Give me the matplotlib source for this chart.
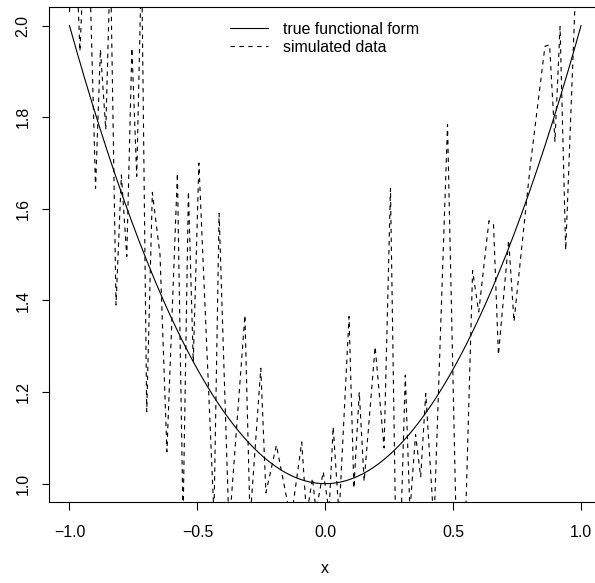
import numpy as np
import matplotlib
matplotlib.use("Agg")
import matplotlib.pyplot as plt
from matplotlib.lines import Line2D

plt.rcParams['font.family'] = ['Liberation Sans', 'DejaVu Sans']

# simulated data (vertices of the dashed line)
sim_x = [-1.000, -0.980, -0.959, -0.940, -0.920, -0.898, -0.879, -0.858, -0.840, -0.818,
         -0.797, -0.776, -0.756, -0.737, -0.718, -0.698, -0.676, -0.646, -0.619, -0.578,
         -0.556, -0.535, -0.516, -0.494, -0.435, -0.415, -0.376, -0.314, -0.294, -0.252,
         -0.232, -0.191, -0.134, -0.092, -0.073, -0.050, -0.036, -0.008, 0.015, 0.031,
         0.054, 0.093, 0.112, 0.133, 0.152, 0.195, 0.230, 0.255, 0.275, 0.298,
         0.313, 0.331, 0.353, 0.373, 0.393, 0.425, 0.478, 0.511, 0.550, 0.576,
         0.600, 0.640, 0.658, 0.677, 0.717, 0.738, 0.801, 0.859, 0.877, 0.898,
         0.918, 0.940, 0.980, 1.000]
sim_y = [2.03, 2.25, 1.944, 2.20, 2.10, 1.645, 1.948, 1.773, 2.15, 1.39,
         1.674, 1.496, 1.951, 1.671, 2.15, 1.157, 1.636, 1.50, 1.07, 1.678,
         0.92, 1.638, 1.266, 1.70, 0.93, 1.59, 0.90, 1.368, 0.92, 1.252,
         0.98, 1.084, 0.92, 1.091, 0.93, 1.012, 0.94, 1.026, 0.94, 1.124,
         0.93, 1.365, 0.99, 1.20, 1.005, 1.299, 1.078, 1.645, 0.91, 0.95,
         1.237, 0.94, 1.107, 1.015, 1.197, 0.91, 1.784, 0.93, 0.95, 1.465,
         1.375, 1.574, 1.565, 1.281, 1.532, 1.354, 1.692, 1.955, 1.958, 1.747,
         1.998, 1.51, 2.10, 2.15]

x_ticks = [-1.0, -0.5, 0.0, 0.5, 1.0]
y_ticks = [1.0, 1.2, 1.4, 1.6, 1.8, 2.0]
labels = ["true functional form", "simulated data"]

fs = 11.4   # about 16 px at 100 dpi
lw = 0.8

fig = plt.figure(figsize=(5.95, 5.83), dpi=100)
ax = fig.add_axes([49 / 595, 81 / 583, 552.5 / 595, 494.7 / 583])

xs = np.linspace(-1, 1, 200)
ax.plot(xs, 1 + xs ** 2, color='black', lw=lw)
ax.plot(sim_x, sim_y, color='black', lw=lw, dashes=(4, 4))

ax.set_xlim(-1.08, 1.08)
ax.set_ylim(0.96, 2.04)
ax.set_xticks(x_ticks)
ax.set_yticks(y_ticks)
ax.set_xticklabels([f"{v:.1f}".replace("-", "\u2212") for v in x_ticks], fontsize=fs)
ax.set_yticklabels([f"{v:.1f}" for v in y_ticks], fontsize=fs, rotation=90, va='center')
ax.tick_params(direction='out', length=5.4, width=lw, colors='black')
ax.tick_params(axis='x', pad=11)
ax.tick_params(axis='y', pad=8)
for s in ax.spines.values():
    s.set_linewidth(lw)
ax.set_xlabel("x", fontsize=fs, labelpad=15)

handles = [Line2D([], [], color='black', lw=lw),
           Line2D([], [], color='black', lw=lw, dashes=(4, 4))]
ax.legend(handles, labels, loc='upper left', bbox_to_anchor=(230 / 595, 1 - 22 / 583),
          bbox_transform=fig.transFigure, frameon=False, fontsize=fs, borderpad=0,
          borderaxespad=0, handlelength=2.4, handletextpad=0.95, labelspacing=0.17)

fig.savefig("out.png", dpi=100)
